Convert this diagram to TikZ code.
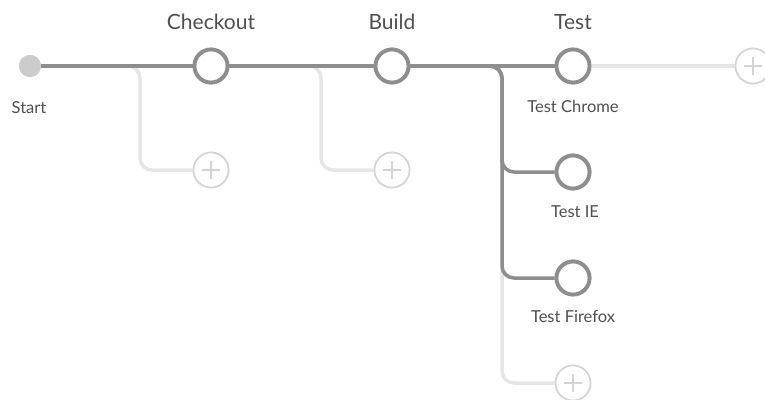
\documentclass[tikz,border=0pt]{standalone}
\usepackage{fontspec}
\setmainfont{Lato}
\definecolor{darkline}{HTML}{8E8E8E}
\definecolor{lightline}{HTML}{E6E6E6}
\definecolor{plusline}{HTML}{D4D4D4}
\definecolor{startfill}{HTML}{CCCCCC}
\definecolor{txt}{HTML}{4F4F4F}
\begin{document}
\begin{tikzpicture}[x=1pt,y=-1pt,
  stage/.style={circle,draw=darkline,line width=3.8pt,fill=white,minimum size=33pt,inner sep=0pt},
  startdot/.style={circle,fill=startfill,minimum size=22pt,inner sep=0pt},
  addbtn/.style={circle,draw=plusline,line width=1.6pt,fill=white,minimum size=35pt,inner sep=0pt,
    path picture={\draw[plusline,line width=1.4pt] ([xshift=-9pt]path picture bounding box.center) -- ([xshift=9pt]path picture bounding box.center);
                  \draw[plusline,line width=1.4pt] ([yshift=-9pt]path picture bounding box.center) -- ([yshift=9pt]path picture bounding box.center);}},
  darkconn/.style={draw=darkline,line width=3.5pt,rounded corners=12pt},
  lightconn/.style={draw=lightline,line width=3.5pt,rounded corners=12pt},
  biglabel/.style={text=txt,font=\fontsize{21}{24}\selectfont},
  smalllabel/.style={text=txt,font=\fontsize{16.5}{19}\selectfont}]
\useasboundingbox (0,0) rectangle (765,399);
% nodes
\node[startdot] (start) at (30,66) {};
\node[stage] (checkout) at (211,66) {};
\node[stage] (build) at (392,66) {};
\node[stage] (test) at (573,66) {};
\node[stage] (ie) at (573,172) {};
\node[stage] (firefox) at (573,278) {};
\node[addbtn] (p1) at (211,170) {};
\node[addbtn] (p2) at (392,170) {};
\node[addbtn] (p3) at (753,66) {};
\node[addbtn] (p4) at (573,383) {};
% junctions
\coordinate (j1) at (140,170);
\coordinate (j2) at (321,170);
\coordinate (j3) at (502,172);
\coordinate (j4) at (502,278);
\coordinate (j5) at (502,383);
% light connectors
\draw[lightconn] (start.center) -| (j1) -- (p1);
\draw[lightconn] (checkout.center) -| (j2) -- (p2);
\draw[lightconn] (build.center) -| (j5) -- (p4);
\draw[lightconn] (test) -- (p3);
% dark connectors
\draw[darkconn] (build) -| (j4) -- (firefox);
\draw[darkconn] (build) -| (j3) -- (ie);
\draw[darkconn] (start) -- (checkout);
\draw[darkconn] (checkout) -- (build);
\draw[darkconn] (build) -- (test);
% redraw nodes on top
\node[startdot] at (start) {};
\node[stage] at (checkout) {};
\node[stage] at (build) {};
\node[stage] at (test) {};
\node[stage] at (ie) {};
\node[stage] at (firefox) {};
\node[addbtn] at (p1) {};
\node[addbtn] at (p2) {};
\node[addbtn] at (p3) {};
\node[addbtn] at (p4) {};
% labels
\node[biglabel] (lcheckout) at (211,22) {Checkout};
\node[biglabel] (lbuild) at (392,22) {Build};
\node[biglabel] (ltest) at (573,22) {Test};
\node[smalllabel] (lstart) at (29,108) {Start};
\node[smalllabel] (lchrome) at (573,106) {Test Chrome};
\node[smalllabel] (lie) at (575,212) {Test IE};
\node[smalllabel] (lff) at (573,317) {Test Firefox};
\end{tikzpicture}
\end{document}
